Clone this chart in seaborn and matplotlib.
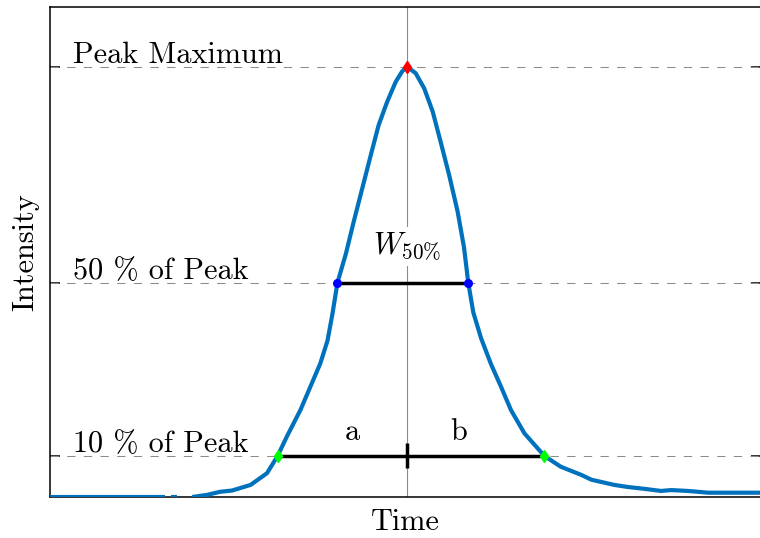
import numpy as np
import pandas as pd
import matplotlib
matplotlib.use("Agg")
import matplotlib.pyplot as plt
import seaborn as sns

# Chromatographic peak trace (normalised intensity, peak = 1)
time = [0.0, 16.1,
        17.0, 17.9,
        20.0, 22.1, 23.9, 25.6, 28.2, 30.5, 32.0, 33.3, 35.2, 36.6, 38.0, 39.0,
        39.7, 40.4, 41.6, 42.7, 43.9, 45.1, 46.2, 47.4, 48.6, 49.5, 50.2, 51.4,
        52.6, 53.8, 54.9, 56.1, 57.3, 58.2, 58.8, 59.5, 60.6, 62.0, 63.4, 64.8,
        66.7, 69.5, 71.8, 74.7, 76.1, 79.3, 81.3, 83.5, 85.9, 87.3, 89.7, 92.5,
        96.2, 100.0]
intensity = [0.005, 0.005,
             0.005, 0.005,
             0.005, 0.010, 0.017, 0.020, 0.033, 0.060, 0.100, 0.145, 0.206, 0.260,
             0.314, 0.366, 0.428, 0.500, 0.568, 0.642, 0.719, 0.796, 0.865, 0.919,
             0.965, 0.989, 1.000, 0.985, 0.950, 0.896, 0.827, 0.750, 0.665, 0.582,
             0.500, 0.432, 0.372, 0.312, 0.260, 0.206, 0.152, 0.100, 0.075, 0.056,
             0.045, 0.033, 0.028, 0.024, 0.019, 0.021, 0.019, 0.015, 0.015, 0.015]
segment = [0, 0,
           1, 1] + [2] * 50

# Reference levels and the points where the trace crosses them
peak_time = 50.2
peak_level = 1.0
half_level = 0.5
tenth_level = 0.1
half_times = [40.4, 58.8]
tenth_times = [32.0, 69.5]

level_labels = ["Peak Maximum", "50 % of Peak", "10 % of Peak"]
levels = [peak_level, half_level, tenth_level]

sns.set_style("ticks")
plt.rcParams["font.family"] = ["cmr10", "DejaVu Serif"]
plt.rcParams["mathtext.fontset"] = "cm"
plt.rcParams["axes.unicode_minus"] = False
plt.rcParams["axes.formatter.use_mathtext"] = True
plt.rcParams["text.color"] = "black"
plt.rcParams["axes.labelcolor"] = "black"

fig = plt.figure(figsize=(7.6, 5.38), dpi=100)
ax = fig.add_axes([0.0658, 0.0762, 0.936, 0.9108])

df = pd.DataFrame({"time": time, "intensity": intensity, "segment": segment})
sns.lineplot(data=df, x="time", y="intensity", units="segment", estimator=None,
             sort=False, color="#0072BD", lw=3, ax=ax, zorder=4,
             solid_joinstyle="round", solid_capstyle="butt")

ax.set_xlim(0, 100)
ax.set_ylim(0.005, 1.138)

# guide lines
ax.axvline(peak_time, color="#8c8c8c", lw=0.8, zorder=1)
for lv in levels:
    ax.axhline(lv, color="#8c8c8c", lw=0.75, ls=(0, (8, 8)), zorder=1)

# width bars
ax.plot(half_times, [half_level, half_level], color="black", lw=2.5, zorder=3,
        solid_capstyle="butt")
ax.plot(tenth_times, [tenth_level, tenth_level], color="black", lw=2.5, zorder=3,
        solid_capstyle="butt")
ax.plot([peak_time, peak_time], [tenth_level - 0.028, tenth_level + 0.030],
        color="black", lw=2.5, zorder=3, solid_capstyle="butt")

# markers
ax.plot([peak_time], [peak_level], ls="none", marker="d", ms=6.5,
        color="#ff0000", mec="#ff0000", zorder=6)
ax.plot(half_times, [half_level] * 2, ls="none", marker="o", ms=5.5,
        color="#0000ff", mec="#0000ff", zorder=6)
ax.plot(tenth_times, [tenth_level] * 2, ls="none", marker="d", ms=6.5,
        color="#00ff00", mec="#00ff00", zorder=6)

fs = 21.8
for lab, lv in zip(level_labels, levels):
    ax.annotate(lab, xy=(3.2, lv), xytext=(0, 3), textcoords="offset points",
                ha="left", va="baseline", fontsize=fs, zorder=5, color="black")

ax.text(peak_time, 0.585, r"$W_{50\%}$", ha="center", va="center", fontsize=fs,
        zorder=2, color="black",
        bbox=dict(boxstyle="square,pad=0.12", fc="white", ec="none"))
ax.annotate("a", xy=(42.5, tenth_level), xytext=(0, 11.5), textcoords="offset points",
            ha="center", va="baseline", fontsize=fs, color="black")
ax.annotate("b", xy=(57.5, tenth_level), xytext=(0, 11.5), textcoords="offset points",
            ha="center", va="baseline", fontsize=fs, color="black")

ax.set_xticks([])
ax.set_yticks(levels)
ax.set_yticklabels([])
ax.tick_params(axis="y", direction="in", length=7, width=1.1, left=True, right=True,
               color="black")
for s in ax.spines.values():
    s.set_linewidth(1.1)
    s.set_color("black")

ax.set_xlabel("Time", fontsize=fs, labelpad=8)
ax.set_ylabel("Intensity", fontsize=fs, labelpad=4)

fig.savefig("out.png", dpi=100, facecolor="white")
